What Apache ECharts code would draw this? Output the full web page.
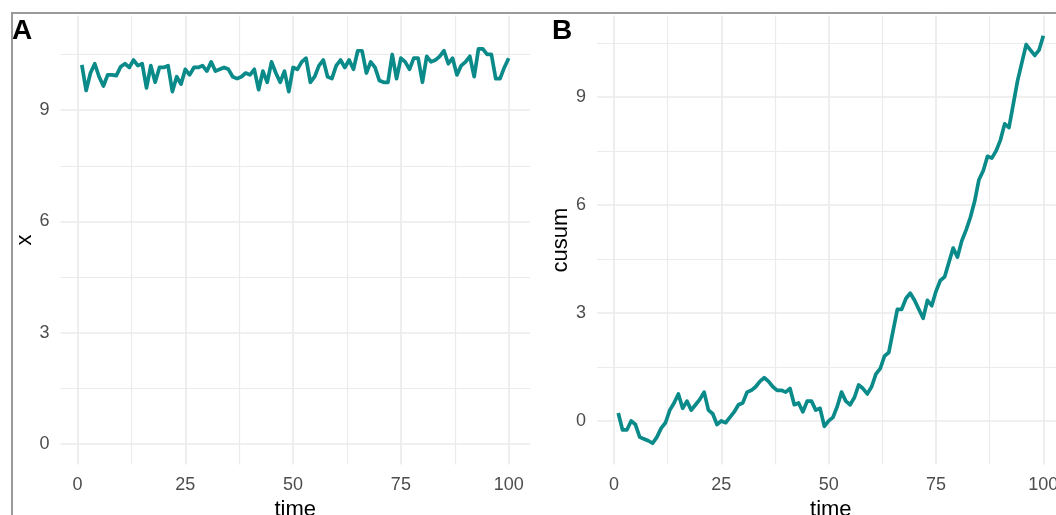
<!DOCTYPE html>
<html>
<head>
<meta charset="utf-8">
<script src="https://cdn.jsdelivr.net/npm/echarts@6/dist/echarts.min.js"></script>
<style>
html,body{margin:0;padding:0;background:#fff;overflow:hidden;}
#chart{width:1056px;height:515px;}
</style>
</head>
<body>
<div id="chart"></div>
<script>
// ---- data ----
const time = [1,2,3,4,5,6,7,8,9,10,11,12,13,14,15,16,17,18,19,20,
  21,22,23,24,25,26,27,28,29,30,31,32,33,34,35,36,37,38,39,40,
  41,42,43,44,45,46,47,48,49,50,51,52,53,54,55,56,57,58,59,60,
  61,62,63,64,65,66,67,68,69,70,71,72,73,74,75,76,77,78,79,80,
  81,82,83,84,85,86,87,88,89,90,91,92,93,94,95,96,97,98,99,100];

const xValues = [10.22,9.53,10.00,10.25,9.90,9.65,9.95,9.95,9.93,10.17,
  10.25,10.15,10.35,10.20,10.25,9.60,10.20,9.75,10.15,10.15,
  10.20,9.50,9.90,9.70,10.10,9.95,10.15,10.15,10.20,10.05,
  10.30,10.05,10.10,10.15,10.10,9.90,9.85,9.90,10.00,9.95,
  10.10,9.55,10.05,9.75,10.30,10.00,9.75,10.05,9.50,10.15,
  10.10,10.30,10.40,9.75,9.90,10.20,10.35,9.90,9.85,10.20,
  10.35,10.15,10.35,10.10,10.60,10.60,10.00,10.30,10.15,9.80,
  9.75,9.75,10.50,9.85,10.40,10.30,10.10,10.40,10.40,9.75,
  10.45,10.30,10.35,10.45,10.60,10.25,10.40,9.95,10.20,10.30,
  10.45,9.90,10.65,10.65,10.50,10.50,9.85,9.85,10.15,10.40];

const cusumValues = [0.22,-0.25,-0.25,0.00,-0.10,-0.45,-0.50,-0.55,-0.62,-0.45,
  -0.20,-0.05,0.30,0.50,0.75,0.35,0.55,0.30,0.45,0.60,
  0.80,0.30,0.20,-0.10,0.00,-0.05,0.10,0.25,0.45,0.50,
  0.80,0.85,0.95,1.10,1.20,1.10,0.95,0.85,0.85,0.80,
  0.90,0.45,0.50,0.25,0.55,0.55,0.30,0.35,-0.15,0.00,
  0.10,0.40,0.80,0.55,0.45,0.65,1.00,0.90,0.75,0.95,
  1.30,1.45,1.80,1.90,2.50,3.10,3.10,3.40,3.55,3.35,
  3.10,2.85,3.35,3.20,3.60,3.90,4.00,4.40,4.80,4.55,
  5.00,5.30,5.65,6.10,6.70,6.95,7.35,7.30,7.50,7.80,
  8.25,8.15,8.80,9.45,9.95,10.45,10.30,10.15,10.30,10.70];

const xTickValues = [0, 25, 50, 75, 100];
const yTickValues = [0, 3, 6, 9];
const panelLabels = ['A', 'B'];
const yTitles = ['x', 'cusum'];
const xTitle = 'time';

// ---- styling ----
const FONT = "'Liberation Sans', Arial, Helvetica, sans-serif";
const GRID_COLOR = '#EBEBEB';
const LINE_COLOR = '#0B8A8A';

function tickFormatter(ticks) {
  return function (v) {
    for (const t of ticks) { if (Math.abs(v - t) < 1e-6) return String(t); }
    return '';
  };
}

function makeXAxis(gi) {
  return {
    gridIndex: gi, type: 'value', min: -3.95, max: 104.95,
    splitNumber: 4, minInterval: 25, maxInterval: 25,
    axisLine: {show: false}, axisTick: {show: false},
    axisLabel: {formatter: tickFormatter(xTickValues), color: '#4D4D4D', fontSize: 18,
      fontFamily: FONT, margin: 12, hideOverlap: false},
    splitLine: {show: true, showMinLine: false, showMaxLine: false,
      lineStyle: {color: GRID_COLOR, width: 1.7}},
    minorTick: {show: false, splitNumber: 2},
    minorSplitLine: {show: true, lineStyle: {color: GRID_COLOR, width: 1.2}},
    name: xTitle, nameLocation: 'middle', nameGap: 32,
    nameTextStyle: {color: '#000', fontSize: 22, fontFamily: FONT}
  };
}

function makeYAxis(gi, min, max, title) {
  return {
    gridIndex: gi, type: 'value', min: min, max: max,
    splitNumber: 4, minInterval: 3, maxInterval: 3,
    axisLine: {show: false}, axisTick: {show: false},
    axisLabel: {formatter: tickFormatter(yTickValues), color: '#4D4D4D', fontSize: 18,
      fontFamily: FONT, margin: 11},
    splitLine: {show: true, showMinLine: false, showMaxLine: false,
      lineStyle: {color: GRID_COLOR, width: 1.7}},
    minorTick: {show: false, splitNumber: 2},
    minorSplitLine: {show: true, lineStyle: {color: GRID_COLOR, width: 1.2}},
    name: title, nameLocation: 'middle', nameGap: 24, nameRotate: 90,
    nameTextStyle: {color: '#000', fontSize: 22, fontFamily: FONT}
  };
}

const chart = echarts.init(document.getElementById('chart'), null, {renderer: 'canvas'});
chart.setOption({
  animation: false,
  backgroundColor: '#ffffff',
  title: [
    {text: panelLabels[0], left: 12, top: 17, padding: 0,
      textStyle: {fontSize: 28, fontWeight: 'bold', color: '#000', fontFamily: FONT}},
    {text: panelLabels[1], left: 552, top: 17, padding: 0,
      textStyle: {fontSize: 28, fontWeight: 'bold', color: '#000', fontFamily: FONT}}
  ],
  graphic: [{
    type: 'rect', silent: true, z: 100,
    shape: {x: 12, y: 13, width: 1200, height: 700},
    style: {fill: 'none', stroke: '#9A9A9A', lineWidth: 2}
  }],
  grid: [
    {left: 60.5, top: 15.5, width: 469.5, height: 449, containLabel: false, outerBoundsMode: 'none'},
    {left: 597, top: 15.5, width: 467.6, height: 449, containLabel: false, outerBoundsMode: 'none'}
  ],
  xAxis: [makeXAxis(0), makeXAxis(1)],
  yAxis: [makeYAxis(0, -0.55, 11.55, yTitles[0]), makeYAxis(1, -1.21, 11.26, yTitles[1])],
  series: [
    {type: 'line', xAxisIndex: 0, yAxisIndex: 0, showSymbol: false, symbol: 'none',
      lineStyle: {color: LINE_COLOR, width: 3.7, join: 'round'}, itemStyle: {color: LINE_COLOR},
      data: time.map((t, i) => [t, xValues[i]])},
    {type: 'line', xAxisIndex: 1, yAxisIndex: 1, showSymbol: false, symbol: 'none',
      lineStyle: {color: LINE_COLOR, width: 3.7, join: 'round'}, itemStyle: {color: LINE_COLOR},
      data: time.map((t, i) => [t, cusumValues[i]])}
  ]
});
</script>
</body>
</html>
